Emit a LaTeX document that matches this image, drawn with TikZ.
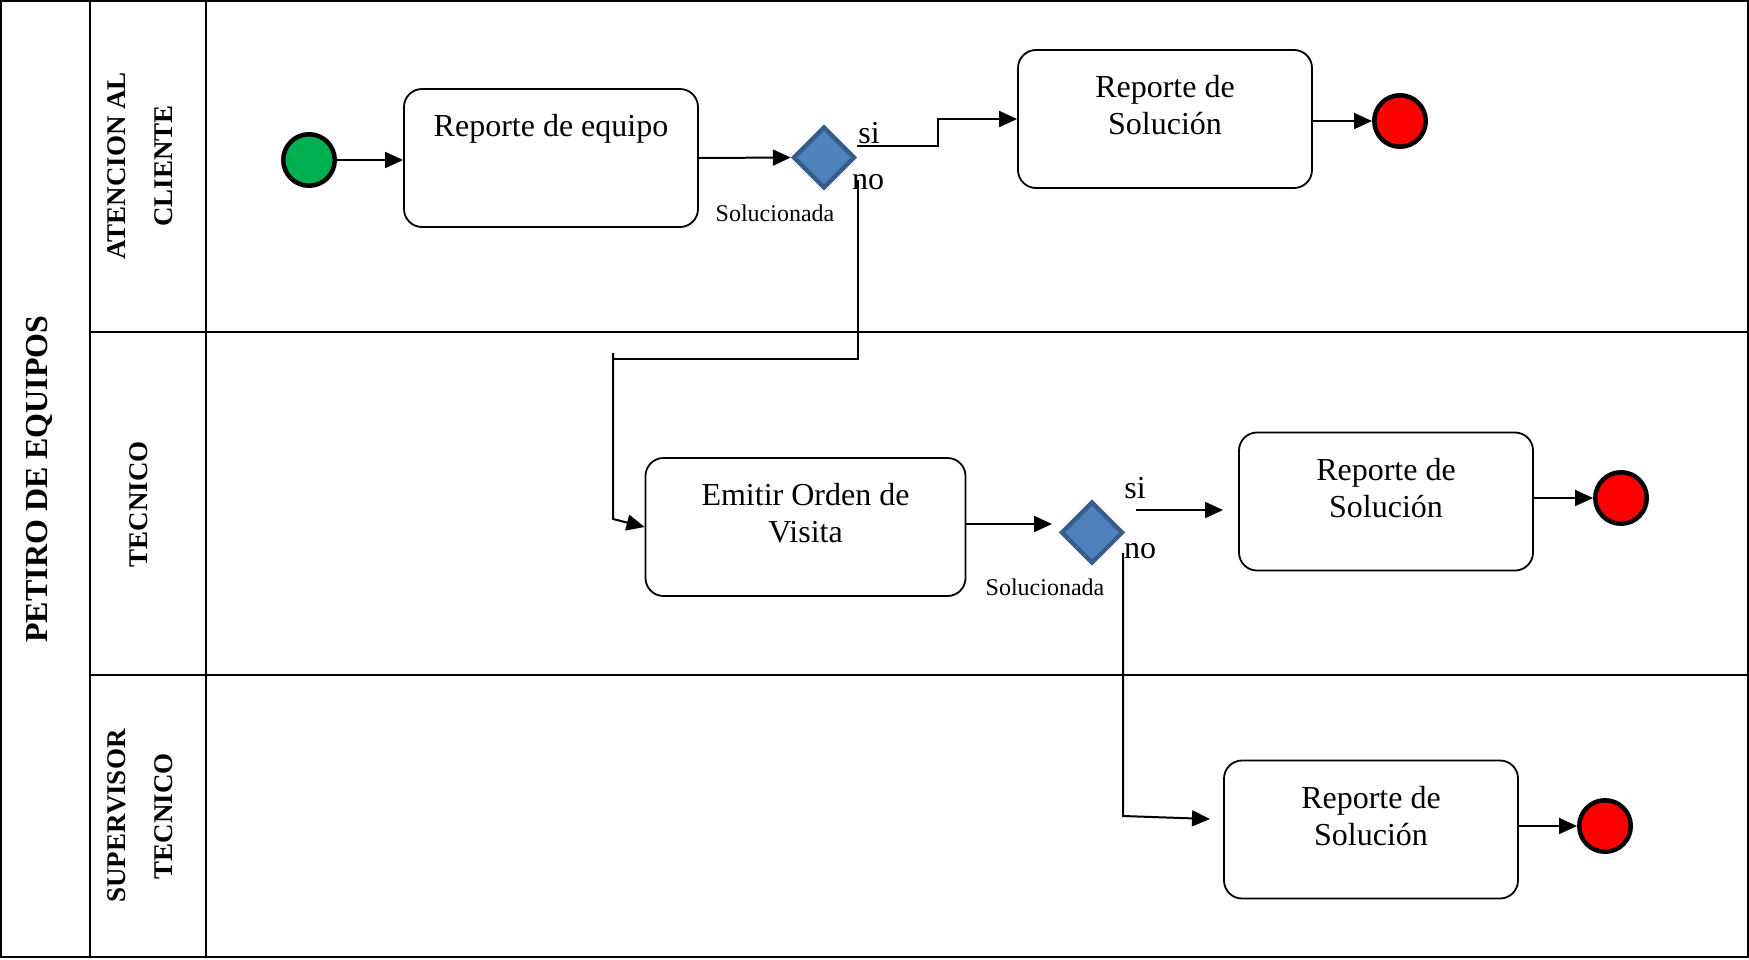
\documentclass[tikz,border=0pt]{standalone}
\usepackage{fontspec}
\setmainfont{Liberation Serif}
\usetikzlibrary{shapes.geometric,arrows.meta}

\definecolor{startgreen}{HTML}{00B050}
\definecolor{endred}{HTML}{FF0000}
\definecolor{gatefill}{HTML}{4F81BD}
\definecolor{gateline}{HTML}{385D8A}

\begin{document}
\begin{tikzpicture}[x=0.5pt,y=-0.5pt,
  lane/.style={line width=1pt},
  task/.style={draw, line width=0.9pt, rounded corners=9pt,
    minimum width=147pt, minimum height=69pt, inner sep=0pt},
  tasktext/.style={anchor=north, yshift=-13pt, align=center,
    font=\fontsize{16}{18.4}\selectfont, inner sep=0pt},
  startev/.style={circle, draw, line width=2.25pt, fill=startgreen,
    minimum size=25.75pt, inner sep=0pt},
  endev/.style={circle, draw, line width=2.25pt, fill=endred,
    minimum size=25.75pt, inner sep=0pt},
  gate/.style={diamond, aspect=1, draw=gateline, line width=2.2pt,
    fill=gatefill, minimum size=31pt, inner sep=0pt},
  flow/.style={line width=1pt, -{Triangle[length=9pt,width=8pt]}},
  plainflow/.style={line width=1pt},
  guard/.style={font=\fontsize{16}{18}\selectfont, inner sep=0pt},
  gatename/.style={font=\fontsize{12}{14}\selectfont, inner sep=0pt},
  lanename/.style={rotate=90, align=center,
    font=\fontsize{13.5}{23.5}\selectfont\bfseries, inner sep=0pt},
]
\useasboundingbox (0,0) rectangle (1749,959);

% pool and lanes
\draw[lane] (1,1) rectangle (1748,957);
\draw[lane] (90,1) -- (90,957);
\draw[lane] (206,1) -- (206,957);
\draw[lane] (90,332) -- (1748,332);
\draw[lane] (90,675) -- (1748,675);

\node[lanename, font=\fontsize{16}{19}\selectfont\bfseries] (pool) at (39,479) {PETIRO DE EQUIPOS};
\node[lanename] (laneA) at (140.5,166) {ATENCION AL\\CLIENTE};
\node[lanename] (laneB) at (139,504) {TECNICO};
\node[lanename] (laneC) at (140.5,816) {SUPERVISOR\\TECNICO};

% atencion al cliente
\node[startev] (start) at (309,160) {};
\node[task, label={[tasktext]north:Reporte de equipo}] (b1) at (551,158) {};
\node[gate] (d1) at (824,157.5) {};
\node[task, label={[tasktext]north:Reporte de\\Solución}] (r1) at (1165,119) {};
\node[endev] (end1) at (1400,121) {};

\node[guard] (d1si) at (869,133) {si};
\node[guard] (d1no) at (868,182) {no};
\node[gatename] (d1name) at (775,213) {Solucionada};

% tecnico
\node[task, minimum width=160pt, label={[tasktext]north:Emitir Orden de\\Visita}] (e1) at (805.5,527) {};
\node[gate] (d2) at (1092,532.5) {};
\node[task, label={[tasktext]north:Reporte de\\Solución}] (r2) at (1386,501.5) {};
\node[endev] (end2) at (1621,498) {};

\node[guard] (d2si) at (1135,488) {si};
\node[guard] (d2no) at (1140,551) {no};
\node[gatename] (d2name) at (1045,587) {Solucionada};

% supervisor tecnico
\node[task, label={[tasktext]north:Reporte de\\Solución}] (r3) at (1371,829.5) {};
\node[endev] (end3) at (1605,826) {};

% connector end points
\coordinate (d1out) at (857,146);
\coordinate (d1bend) at (938,146);
\coordinate (d1down) at (858,180);
\coordinate (j1) at (613,359);
\coordinate (j1top) at (613,353);
\coordinate (j1low) at (613,519);
\coordinate (d2in) at (1052,524);
\coordinate (d2out) at (1136,510);
\coordinate (r2in) at (1223,510);
\coordinate (d2down) at (1123,553);
\coordinate (j2) at (1123,816);
\coordinate (r3in) at (1210,819);

% flows
\draw[flow] (start) -- (start -| b1.west);
\draw[flow] (b1.east) -- (d1.west);
\draw[flow] (d1out) -- (d1bend) |- (r1.west);
\draw[flow] (r1.east |- end1) -- (end1);
\draw[plainflow] (d1down) |- (j1);
\draw[flow] (j1top) -- (j1low) -- (e1.west);
\draw[flow] (e1.east |- d2in) -- (d2in);
\draw[flow] (d2out) -- (r2in);
\draw[flow] (r2.east |- end2) -- (end2);
\draw[flow] (d2down) -- (j2) -- (r3in);
\draw[flow] (r3.east |- end3) -- (end3);
\end{tikzpicture}
\end{document}
